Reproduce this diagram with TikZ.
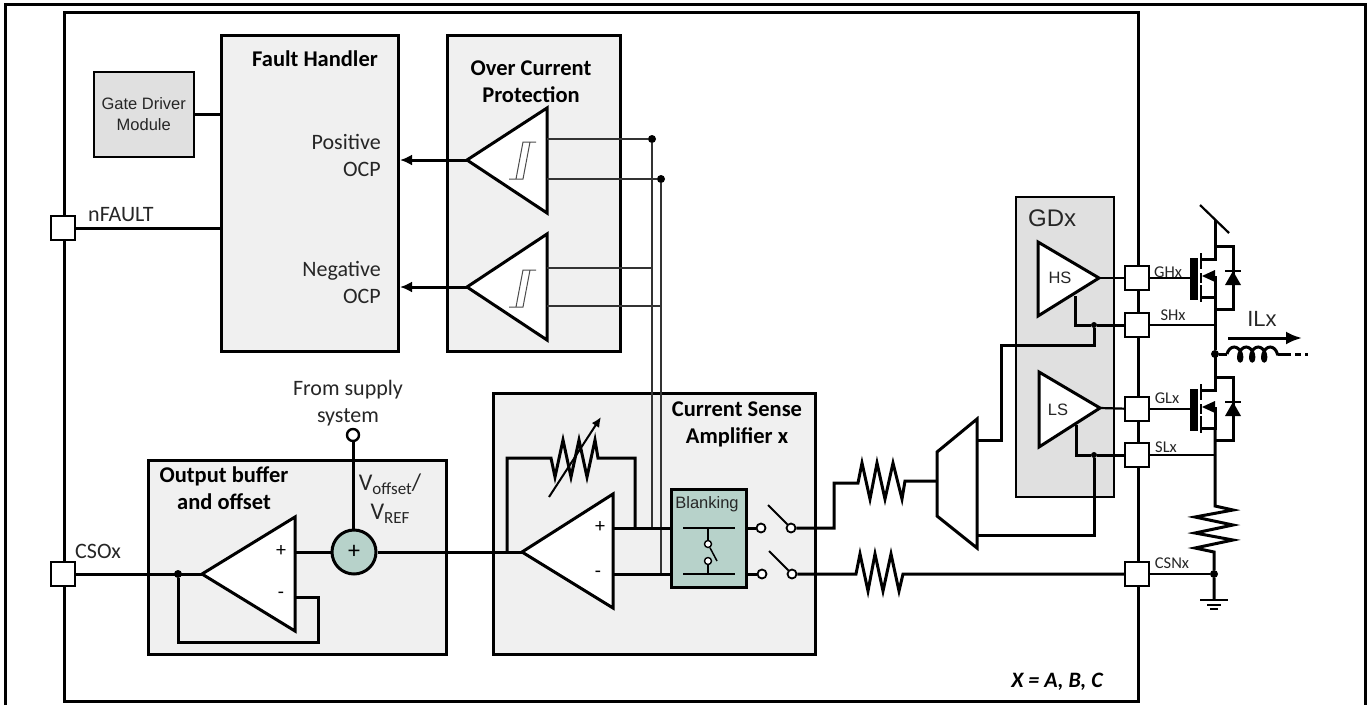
\documentclass[tikz,border=0pt]{standalone}
\usepackage{fontspec}
\setmainfont{Carlito}
\newfontfamily\arialfont{Liberation Sans}
\usetikzlibrary{decorations.pathmorphing,arrows.meta}
\definecolor{blockgray}{HTML}{F0F0F0}
\definecolor{drivergray}{HTML}{E0E0E0}
\definecolor{tealfill}{HTML}{B7D2CA}
\definecolor{textgray}{HTML}{262626}
\tikzset{
  wire/.style={line width=3pt},
  thinwire/.style={line width=1.4pt, black!80},
  block/.style={draw, line width=3pt, fill=blockgray, anchor=north west, inner sep=0pt},
  tri/.style={draw, line width=3pt, fill=white},
  pad/.style={draw, line width=2pt, fill=white, minimum size=24pt, inner sep=0pt},
  jdot/.style={circle, fill=black, minimum size=8pt, inner sep=0pt},
  term/.style={circle, draw, line width=1.8pt, fill=white, minimum size=9pt, inner sep=0pt},
  title/.style={font=\fontsize{22.5}{27}\selectfont\bfseries, text=black, inner sep=0pt},
  label/.style={font=\fontsize{22}{27}\selectfont, text=textgray, inner sep=0pt},
  padlabel/.style={font=\fontsize{16.5}{16.5}\selectfont, text=textgray, inner sep=0pt},
  arial/.style={font=\arialfont\fontsize{16.5}{20.5}\selectfont, text=textgray, inner sep=0pt},
  mosfet/.pic={
    \fill (-25,-20) rectangle (-17,22);
    \draw[line width=2.2pt] (-14,-25) -- (-14,-9) (-14,-5) -- (-14,5) (-14,7) -- (-14,24);
    \draw[wire] (-14,-19) -- (0,-19) -- (0,-58);
    \draw[wire] (-14,19) -- (0,19) -- (0,-2);
    \draw[wire] (0,-32) -- (18,-32) -- (18,31) -- (0,31);
    \fill (-13,-2) -- (0,-8) -- (0,4) -- cycle;
    \draw[line width=2.2pt] (10,-7) -- (26,-7);
    \fill (18,-7) -- (10,7) -- (26,7) -- cycle;
  },
  hyst/.pic={
    \draw[line width=1pt, black!70] (13,-18) -- (0,-18) -- (-7,19) -- (-14,19) (7,-18) -- (0,19) -- (-7,19);
  },
}
\begin{document}
\begin{tikzpicture}[x=1pt,y=-1pt]
    \useasboundingbox (0,0) rectangle (1368,705);
    \coordinate (frameNW) at (5,4);
    \coordinate (frameSW) at (5,705);
    \coordinate (frameNE) at (1365,4);
    \coordinate (frameSE) at (1365,705);
    \draw[wire] (frameSW) -- (frameNW) -- (frameNE) -- (frameSE);
    \node[draw, wire, anchor=north west, minimum width=1074pt, minimum height=689pt, inner sep=0pt] (chip) at (63,11) {};

    \node[block, minimum width=177pt, minimum height=316pt] (fault) at (220,34) {};
    \node[block, minimum width=173pt, minimum height=316pt] (ocp) at (446,34) {};
    \node[block, minimum width=298pt, minimum height=194pt] (buffer) at (147,459) {};
    \node[block, minimum width=322pt, minimum height=261pt] (csa) at (492,392) {};
    \node[draw, line width=1.5pt, fill=drivergray, anchor=north west, minimum width=100pt, minimum height=85pt, inner sep=0pt, align=center, arial] (gatedrv) at (93,71) {Gate Driver\\Module};
    \node[draw, line width=1.5pt, fill=drivergray, anchor=north west, minimum width=98pt, minimum height=300pt, inner sep=0pt] (gdx) at (1015,196) {};

    \node[title] (faulttitle) at (315,59) {Fault Handler};
    \node[title, align=center] (ocptitle) at (531,82) {Over Current\\Protection};
    \node[title, align=center] (buffertitle) at (224,488) {Output buffer\\and offset};
    \node[title, align=center] (csatitle) at (737,424) {Current Sense\\Amplifier x};
    \node[label, anchor=east, align=right] (posocp) at (381,155) {Positive\\OCP};
    \node[label, anchor=east, align=right] (negocp) at (381,282) {Negative\\OCP};
    \node[label, anchor=west] (nfaulttext) at (88,215) {nFAULT};
    \node[label, anchor=west] (csoxtext) at (75,551) {CSOx};
    \node[label, align=center] (supply) at (348,403) {From supply\\system};
    \node[font=\fontsize{24}{24}\selectfont, text=textgray, inner sep=0pt] (voffset) at (390,484) {V\raisebox{-4pt}{\fontsize{17}{17}\selectfont offset}/};
    \node[font=\fontsize{24}{24}\selectfont, text=textgray, inner sep=0pt] (vref) at (390,514) {V\raisebox{-4pt}{\fontsize{17}{17}\selectfont REF}};
    \node[font=\fontsize{22}{22}\selectfont\bfseries\itshape, inner sep=0pt] (xabc) at (1057,682) {X = A, B, C};

    \coordinate (gdjoin) at (fault.west |- gatedrv.east);
    \draw[line width=3pt] (gatedrv.east) -- (gdjoin);

    \node[pad] (nfault) at (63,228) {};
    \node[pad] (csox) at (63,574) {};
    \node[pad] (ghx) at (1137,278) {};
    \node[pad] (shx) at (1137,325) {};
    \node[pad] (glx) at (1137,409) {};
    \node[pad] (slx) at (1137,455) {};
    \node[pad] (csnx) at (1137,574) {};
    \node[padlabel] (ghxtext) at (1168,272) {GHx};
    \node[padlabel] (shxtext) at (1173,315) {SHx};
    \node[padlabel] (glxtext) at (1167,398) {GLx};
    \node[padlabel] (slxtext) at (1166,447) {SLx};
    \node[padlabel] (csnxtext) at (1172,563) {CSNx};
    \draw[wire] (nfault) -- (nfault -| fault.west);

    \coordinate (cmpatip) at (467,160);
    \coordinate (cmpbtip) at (467,287);
    \draw[wire, -{Latex[length=12pt,width=11pt]}] (cmpatip) -- (cmpatip -| fault.east);
    \draw[wire, -{Latex[length=12pt,width=11pt]}] (cmpbtip) -- (cmpbtip -| fault.east);
    \filldraw[tri] (cmpatip) -- (547,108) -- (547,213) -- cycle;
    \filldraw[tri] (cmpbtip) -- (547,234) -- (547,340) -- cycle;
    \pic at (523,160) {hyst};
    \pic at (523,288) {hyst};

    \coordinate (plusline) at (652,528);
    \coordinate (minusline) at (661,574);
    \node[jdot] (senseA) at (652,139) {};
    \node[jdot] (senseB) at (661,179) {};
    \draw[thinwire] (547,139) -- (senseA) -- (plusline);
    \draw[thinwire] (547,179) -- (senseB) -- (minusline);
    \draw[thinwire] (547,268) -- (652,268);
    \draw[thinwire] (547,306) -- (661,306);

    \coordinate (buftip) at (202,574);
    \node[jdot] (bufjoin) at (178,574) {};
    \draw[wire] (csox) -- (buftip);
    \draw[wire] (295,597) -- (318,597) -- (318,642) -- (178,642) -- (bufjoin);
    \filldraw[tri] (buftip) -- (295,517) -- (295,631) -- cycle;
    \node[font=\fontsize{20}{20}\selectfont, inner sep=0pt] (bufplus) at (281,551) {+};
    \node[font=\fontsize{20}{20}\selectfont, inner sep=0pt] (bufminus) at (281,595) {-};

    \node[circle, draw, line width=3pt, fill=tealfill, minimum size=44pt, inner sep=0pt, font=\fontsize{24}{24}\selectfont] (adder) at (354,552) {+};
    \node[term, line width=2.4pt, minimum size=12pt] (supplyterm) at (353,435) {};
    \draw[wire] (supplyterm) -- (supplyterm |- adder.north);
    \draw[wire] (295,552) -- (adder);

    \coordinate (amptip) at (522,552);
    \draw[wire] (adder) -- (amptip);
    \draw[wire] (507,552) -- (507,458) -- (551,458) -- (555,477) -- (563,440) -- (571,477) -- (579,440) -- (587,477) -- (595,440) -- (598,458) -- (635,458) -- (635,528);
    \draw[line width=2pt, -{Latex[length=10pt,width=9pt]}] (549,497) -- (601,417);
    \filldraw[tri] (amptip) -- (613,494) -- (613,608) -- cycle;
    \node[font=\fontsize{20}{20}\selectfont, inner sep=0pt] (ampplus) at (600,527) {+};
    \node[font=\fontsize{20}{20}\selectfont, inner sep=0pt] (ampminus) at (598,574) {-};

    \node[draw, line width=3pt, fill=tealfill, anchor=north west, minimum width=75pt, minimum height=98pt, inner sep=0pt] (blanking) at (670,488) {};
    \node[arial] (blankingtext) at (707,504) {Blanking};
    \draw[wire] (613,528) -- (plusline -| blanking.west);
    \draw[wire] (613,574) -- (minusline -| blanking.west);
    \draw[line width=1.5pt] (683,528) -- (735,528) (683,574) -- (735,574);
    \node[term, minimum size=7pt, line width=1.4pt] (blankupper) at (708,544) {};
    \node[term, minimum size=7pt, line width=1.4pt] (blanklower) at (708,561) {};
    \draw[line width=1.5pt] (708,528) -- (blankupper);
    \draw[line width=1.5pt] (blanklower) -- (708,574);
    \draw[line width=1.5pt] (blankupper) -- (717,561);

    \node[term] (swAin) at (761,528) {};
    \node[term] (swAout) at (791,528) {};
    \node[term] (swBin) at (762,574) {};
    \node[term] (swBout) at (792,574) {};
    \draw[wire] (745,528) -- (swAin);
    \draw[wire] (745,574) -- (swBin);
    \draw[line width=2pt] (768,505) -- (swAout);
    \draw[line width=2pt] (769,551) -- (swBout);

    \coordinate (muxin) at (937,481);
    \draw[wire] (swAout) -- (834,528) -- (834,483) -- (858,483) -- (862,463) -- (870,499) -- (877,463) -- (885,499) -- (893,463) -- (902,499) -- (905,481) -- (muxin);
    \draw[wire] (swBout) -- (856,574) -- (860,554) -- (868,591) -- (875,554) -- (883,591) -- (891,554) -- (899,591) -- (903,574) -- (csnx);
    \filldraw[tri] (977,419) -- (937,452) -- (937,516) -- (977,548) -- cycle;

    \coordinate (hstip) at (1099,278);
    \coordinate (lstip) at (1100,408);
    \node[jdot, minimum size=6pt] (shjoin) at (1094,325) {};
    \node[jdot, minimum size=6pt] (sljoin) at (1094,455) {};
    \draw[wire] (1075,296) -- (1075,325) -- (shjoin) -- (shx);
    \draw[wire] (1076,425) -- (1076,455) -- (sljoin) -- (slx);
    \draw[wire] (977,440) -- (1001,440) -- (1001,345) -- (1094,345) -- (shjoin);
    \draw[wire] (977,535) -- (1094,535) -- (sljoin);
    \filldraw[tri] (hstip) -- (1038,242) -- (1038,316) -- cycle;
    \filldraw[tri] (lstip) -- (1039,372) -- (1039,447) -- cycle;
    \node[arial] (hstext) at (1060,278) {HS};
    \node[arial] (lstext) at (1058,410) {LS};
    \node[arial, font=\arialfont\fontsize{24}{24}\selectfont, anchor=west] (gdxtext) at (1028,218) {GDx};
    \draw[line width=2.2pt] (hstip) -- (ghx);
    \draw[line width=2.2pt] (lstip) -- (glx);

    \pic at (1215,278) {mosfet};
    \pic at (1215,409) {mosfet};
    \coordinate (ghgate) at (1190,278);
    \coordinate (glgate) at (1190,409);
    \coordinate (shdrop) at (1215,325);
    \coordinate (sldrop) at (1215,455);
    \draw[line width=2.2pt] (ghx) -- (ghgate);
    \draw[line width=2.2pt] (glx) -- (glgate);
    \draw[line width=2.2pt] (shx) -- (shdrop);
    \draw[line width=2.2pt] (slx) -- (sldrop);
    \draw[line width=2.2pt] (1200,205) -- (1229,233);

    \node[jdot] (swnode) at (1215,354) {};
    \node[jdot] (csnode) at (1214,574) {};
    \draw[wire] (1215,297) -- (swnode);
    \draw[wire] (1215,428) -- (1215,506) -- (1233,510) -- (1195,517) -- (1233,525) -- (1195,533) -- (1233,540) -- (1195,548) -- (1214,552) -- (csnode) -- (1214,600);
    \draw[line width=2.2pt] (csnx) -- (csnode);
    \draw[line width=2.2pt] (1200,600) -- (1228,600);
    \draw[line width=2pt] (1207,605) -- (1221,605);
    \draw[line width=1.8pt] (1210,609) -- (1218,609);

    \coordinate (coilin) at (1227,354);
    \coordinate (coilout) at (1278,354);
    \coordinate (coilend) at (1308,354);
    \draw[wire] (swnode) -- (coilin);
    \draw[wire, decorate, decoration={coil, aspect=0.6, segment length=12pt, amplitude=7pt}] (coilin) -- (coilout);
    \draw[wire] (coilout) -- (1285,354);
    \draw[wire, dash pattern=on 6pt off 4pt] (1285,354) -- (coilend);
    \node[arial, font=\arialfont\fontsize{22}{22}\selectfont] (ilxtext) at (1262,319) {ILx};
    \coordinate (ilxstart) at (1228,338);
    \coordinate (ilxend) at (1302,338);
    \draw[wire, -{Latex[length=16pt,width=13pt]}] (ilxstart) -- (ilxend);
\end{tikzpicture}
\end{document}
